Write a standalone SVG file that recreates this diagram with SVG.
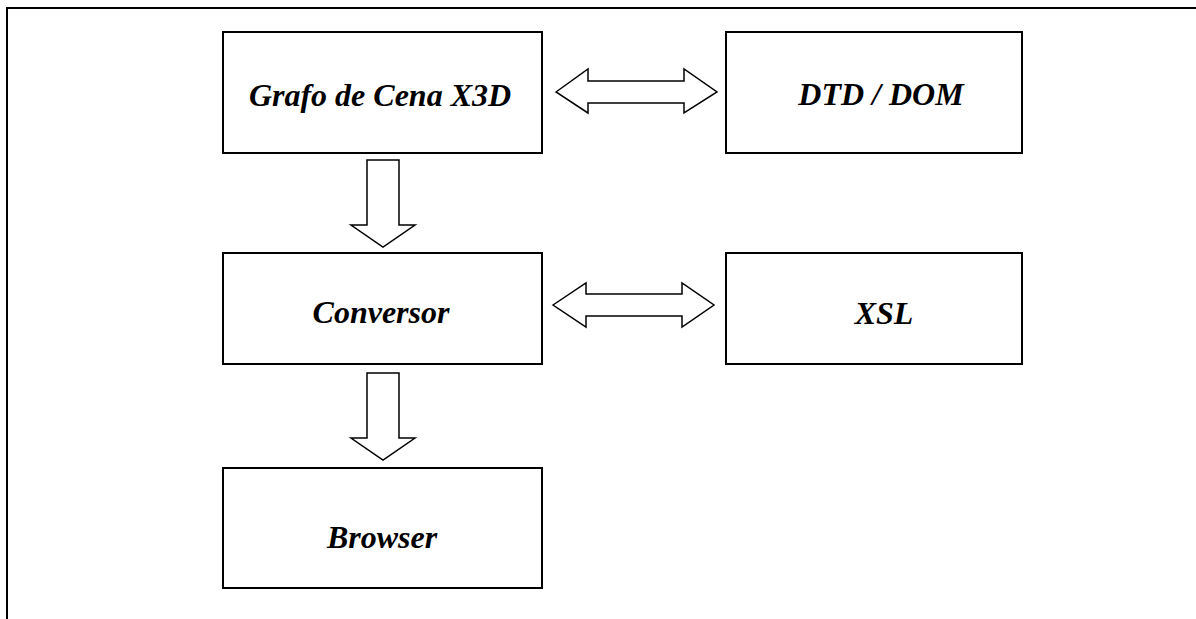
<svg xmlns="http://www.w3.org/2000/svg" width="1196" height="619" viewBox="0 0 1196 619">
  <style>
    .box { fill: #fff; stroke: #000; stroke-width: 2; }
    .arrow { fill: #fff; stroke: #000; stroke-width: 1.5; stroke-linejoin: miter; }
    .label { font-family: "Liberation Serif", "Times New Roman", serif; font-weight: bold; font-style: italic; font-size: 32px; fill: #000; text-anchor: middle; }
  </style>
  <rect width="1196" height="619" fill="#fff"/>
  <!-- outer frame: top and left edges -->
  <polyline points="7,619 7,8 1196,8" fill="none" stroke="#000" stroke-width="2"/>

  <g id="connectors">
    <path class="arrow" d="M556,92 L588,69 L588,81 L684,81 L684,69 L717,92 L684,113 L684,103 L588,103 L588,113 Z"/>
    <path class="arrow" d="M553,305 L586,283 L586,294 L682,294 L682,283 L714,305 L682,327 L682,316 L586,316 L586,327 Z"/>
    <path class="arrow" d="M367,160 L399,160 L399,225 L415,225 L383,247 L351,225 L367,225 Z"/>
    <path class="arrow" d="M367,373 L399,373 L399,438 L415,438 L383,460 L351,438 L367,438 Z"/>
  </g>

  <g id="grafo">
    <rect class="box" x="223" y="32" width="319" height="121"/>
    <text class="label" x="380" y="106">Grafo de Cena X3D</text>
  </g>
  <g id="dtd-dom">
    <rect class="box" x="726" y="32" width="296" height="121"/>
    <text class="label" x="881" y="105">DTD / DOM</text>
  </g>
  <g id="conversor">
    <rect class="box" x="223" y="253" width="319" height="111"/>
    <text class="label" x="381" y="323">Conversor</text>
  </g>
  <g id="xsl">
    <rect class="box" x="726" y="253" width="296" height="111"/>
    <text class="label" x="884" y="324">XSL</text>
  </g>
  <g id="browser">
    <rect class="box" x="223" y="468" width="319" height="120"/>
    <text class="label" x="382" y="548">Browser</text>
  </g>
</svg>
